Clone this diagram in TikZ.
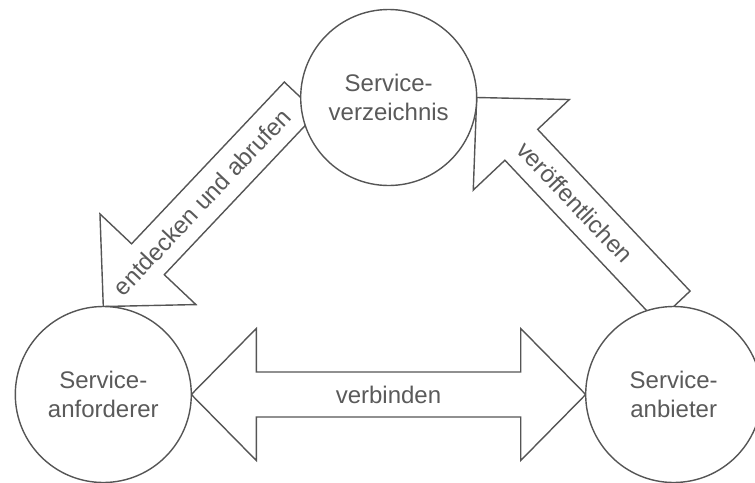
\documentclass[tikz,border=0pt]{standalone}
\usepackage{fontspec}
\setmainfont{Liberation Sans}
\usetikzlibrary{calc,backgrounds}

\definecolor{strokegray}{RGB}{85,85,85}
\definecolor{textgray}{RGB}{90,90,90}

\tikzset{
  rolecircle/.style={circle, draw=strokegray, line width=1.4pt, fill=white,
    minimum size=176pt, inner sep=0pt, outer sep=0pt, align=center,
    text=textgray, font=\fontsize{24}{29}\selectfont},
  blockarrow/.style={draw=strokegray, line width=1.4pt, fill=white, line join=miter},
  arrowlabel/.style={text=textgray, font=\fontsize{24}{29}\selectfont, inner sep=0pt}
}

\begin{document}
\begin{tikzpicture}[x=1pt, y=-1pt]
  \useasboundingbox (0,0) rectangle (755,482);

  % the three roles
  \node[rolecircle] (dir) at (388.7,97.5) {Service-\\verzeichnis};
  \node[rolecircle] (req) at (103.3,394.5) {Service-\\anforderer};
  \node[rolecircle] (prov) at (673.7,394.5) {Service-\\anbieter};

  \begin{pgfonlayer}{background}
    % discover and retrieve: directory -> requester
    \coordinate (s1) at (dir.west);
    \coordinate (e1) at (req.north);
    \coordinate (h1) at ($(e1)!65pt!(s1)$);
    \draw[blockarrow]
      ($(s1)!22.5pt!90:(e1)$) -- ($(h1)!22.5pt!-90:(s1)$) -- ($(h1)!66pt!-90:(s1)$)
      -- (e1) -- ($(h1)!66pt!90:(s1)$) -- ($(h1)!22.5pt!90:(s1)$)
      -- ($(s1)!22.5pt!-90:(e1)$) -- cycle;

    % publish: provider -> directory
    \coordinate (s2) at (prov.north);
    \coordinate (e2) at (dir.east);
    \coordinate (h2) at ($(e2)!65pt!(s2)$);
    \draw[blockarrow]
      ($(s2)!22.5pt!90:(e2)$) -- ($(h2)!22.5pt!-90:(s2)$) -- ($(h2)!66pt!-90:(s2)$)
      -- (e2) -- ($(h2)!66pt!90:(s2)$) -- ($(h2)!22.5pt!90:(s2)$)
      -- ($(s2)!22.5pt!-90:(e2)$) -- cycle;

    % bind: requester <-> provider
    \coordinate (a3) at (req.east);
    \coordinate (b3) at (prov.west);
    \coordinate (ha) at ($(a3)!65pt!(b3)$);
    \coordinate (hb) at ($(b3)!65pt!(a3)$);
    \draw[blockarrow]
      (a3) -- ($(ha)!66pt!90:(b3)$) -- ($(ha)!22.5pt!90:(b3)$)
      -- ($(hb)!22.5pt!-90:(a3)$) -- ($(hb)!66pt!-90:(a3)$)
      -- (b3) -- ($(hb)!66pt!90:(a3)$) -- ($(hb)!22.5pt!90:(a3)$)
      -- ($(ha)!22.5pt!-90:(b3)$) -- ($(ha)!66pt!-90:(b3)$) -- cycle;
  \end{pgfonlayer}

  % arrow labels
  \path (req.north) -- node[arrowlabel, sloped] (l1) {entdecken und abrufen} (dir.west);
  \path (dir.east) -- node[arrowlabel, sloped] (l2) {veröffentlichen} (prov.north);
  \path (req.east) -- node[arrowlabel] (l3) {verbinden} (prov.west);
\end{tikzpicture}
\end{document}
